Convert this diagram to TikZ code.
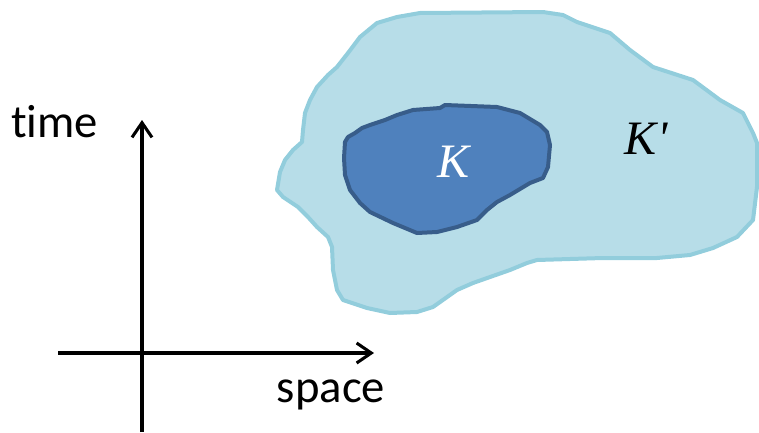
\documentclass[tikz,border=0pt]{standalone}
\usepackage{fontspec}
\setmainfont{Carlito}[Ligatures=NoCommon]
\newfontfamily\mathlike{Liberation Serif}
\usetikzlibrary{arrows.meta}
\definecolor{outerfill}{HTML}{B7DDE8}
\definecolor{outerline}{HTML}{92CDDC}
\definecolor{innerfill}{HTML}{4F81BD}
\definecolor{innerline}{HTML}{385D8A}
\begin{document}
\begin{tikzpicture}[x=0.75pt,y=-0.75pt,
  axis/.style={line width=2.3pt,-{Straight Barb[length=11pt,width=15pt,line width=2.3pt]}},
  lbl/.style={font=\fontsize{35}{42}\selectfont,inner sep=0pt},
  mlbl/.style={font=\mathlike\itshape\fontsize{36}{43}\selectfont,inner sep=0pt}]
\useasboundingbox (0,0) rectangle (759,432);
% outer region K'
\filldraw[fill=outerfill,draw=outerline,line width=3pt,line join=round]
  (277,190) -- (280,172) -- (285,160) -- (293,150) -- (302,142) -- (303,130)
  -- (305,113) -- (310,100) -- (317,87) -- (328,75) -- (337,67) -- (348,53)
  -- (360,37) -- (377,23) -- (397,17) -- (420,13) -- (543,12) -- (563,15)
  -- (577,22) -- (610,33) -- (630,50) -- (653,67) -- (693,80) -- (720,100)
  -- (743,113) -- (753,133) -- (757,143) -- (757,187) -- (753,220) -- (737,237)
  -- (713,248) -- (690,255) -- (657,258) -- (603,258) -- (537,260) -- (527,263)
  -- (510,270) -- (473,283) -- (457,290) -- (433,307) -- (417,312) -- (390,313)
  -- (367,308) -- (343,300) -- (337,290) -- (333,270) -- (332,247) -- (328,237)
  -- (317,227) -- (308,217) -- (298,207) -- (283,197) -- cycle;
% inner region K
\filldraw[fill=innerfill,draw=innerline,line width=3pt,line join=round]
  (345,142) -- (348,137) -- (355,133) -- (362,128) -- (370,125) -- (385,120)
  -- (397,115) -- (413,110) -- (440,108) -- (445,105) -- (497,107) -- (520,113)
  -- (540,125) -- (547,132) -- (550,145) -- (548,167) -- (543,178) -- (530,183)
  -- (510,195) -- (497,202) -- (487,210) -- (477,220) -- (457,227) -- (437,232)
  -- (417,233) -- (393,223) -- (370,212) -- (360,203) -- (350,190) -- (345,175)
  -- (344,158) -- cycle;
\node[mlbl,text=white] (k) at (453,162) {K};
\node[mlbl] (kp) at (646,139) {K\kern1pt'};
% axes
\coordinate (vbot) at (142,432);
\coordinate (vtop) at (142,120);
\coordinate (hleft) at (58,353);
\coordinate (hright) at (374,353);
\draw[axis] (vbot) -- (vtop);
\draw[axis] (hleft) -- (hright);
\node[lbl,anchor=base west] (time) at (11,137) {time};
\node[lbl,anchor=base] (space) at (331,402) {space};
\end{tikzpicture}
\end{document}
